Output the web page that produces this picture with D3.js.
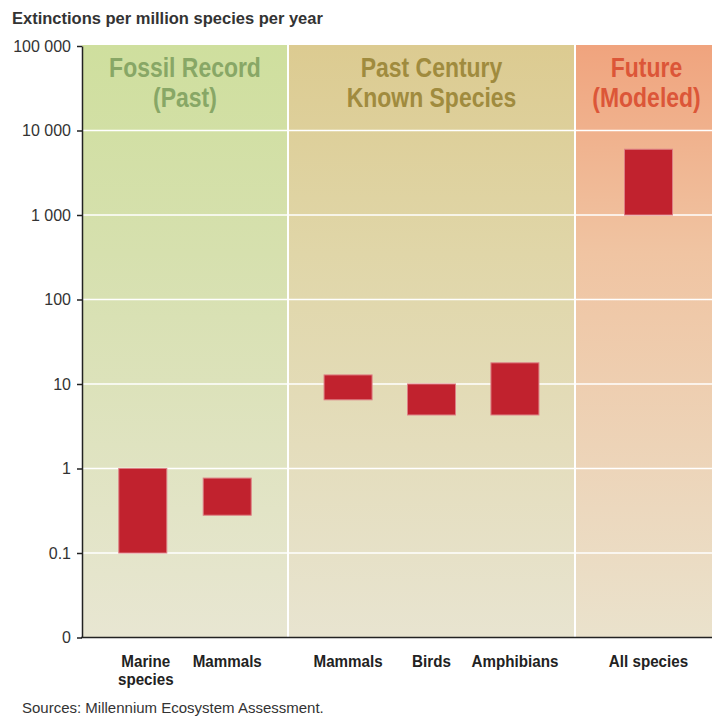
<!DOCTYPE html>
<html>
<head>
<meta charset="utf-8">
<script src="https://cdn.jsdelivr.net/npm/d3@7"></script>
<style>
  body { margin: 0; background: #fff; }
  svg { display: block; font-family: "Liberation Sans", Arial, sans-serif; }
</style>
</head>
<body>
<svg id="chart"></svg>
<script>
// data
const groupTitles = [["Fossil Record", "(Past)"], ["Past Century", "Known Species"], ["Future", "(Modeled)"]];
const categories = [["Marine", "species"], ["Mammals"], ["Mammals"], ["Birds"], ["Amphibians"], ["All species"]];
const categoryGroup = [0, 0, 1, 1, 1, 2];
const rateLow = [0.1, 0.28, 6.5, 4.3, 4.3, 1000];
const rateHigh = [1, 0.77, 12.8, 10, 17.8, 6000];
const yTickValues = [100000, 10000, 1000, 100, 10, 1, 0.1, 0.01];
const yTickLabels = ["100 000", "10 000", "1 000", "100", "10", "1", "0.1", "0"];

const width = 712, height = 717;
const margin = { top: 46, left: 82, bottom: 80 };
const plotBottom = height - margin.bottom + 0.5;
const panelEdges = [margin.left, 288, 575, 722];

const groupColors = [
  { title: "#88a766", stops: ["#cfdf9e", "#d6e0ae", "#e8e6d2"] },
  { title: "#a08b3e", stops: ["#dccb91", "#e0d6a8", "#e8e4d0"] },
  { title: "#dc5638", stops: ["#f0a47e", "#f0c4a2", "#eae2cc"] }
];

const svg = d3.select("#chart").attr("width", width).attr("height", height);

const y = d3.scaleLog().domain([0.01, 100000]).range([plotBottom, margin.top]);

// one point scale per panel
const xScales = groupTitles.map((g, gi) => {
  const ids = d3.range(categories.length).filter(i => categoryGroup[i] === gi);
  return d3.scalePoint().domain(ids).range([panelEdges[gi], panelEdges[gi + 1]]).padding(0.72);
});
const xOf = i => xScales[categoryGroup[i]](i);
const barW = 48;

// gradients
const defs = svg.append("defs");
groupColors.forEach((c, gi) => {
  const grad = defs.append("linearGradient")
    .attr("id", "bg" + gi)
    .attr("gradientUnits", "userSpaceOnUse")
    .attr("x1", 0).attr("x2", 0)
    .attr("y1", margin.top).attr("y2", plotBottom);
  grad.append("stop").attr("offset", "0").attr("stop-color", c.stops[0]);
  grad.append("stop").attr("offset", "0.35").attr("stop-color", c.stops[1]);
  grad.append("stop").attr("offset", "1").attr("stop-color", c.stops[2]);
});

// panels
svg.selectAll("rect.panel")
  .data(groupTitles)
  .enter().append("rect")
  .attr("class", "panel")
  .attr("x", (d, i) => panelEdges[i])
  .attr("y", margin.top - 1)
  .attr("width", (d, i) => panelEdges[i + 1] - panelEdges[i])
  .attr("height", plotBottom - margin.top + 1)
  .attr("fill", (d, i) => `url(#bg${i})`);

// white grid lines
svg.selectAll("line.grid")
  .data(yTickValues.slice(1, -1))
  .enter().append("line")
  .attr("x1", margin.left).attr("x2", width)
  .attr("y1", d => y(d)).attr("y2", d => y(d))
  .attr("stroke", "#fff").attr("stroke-width", 1.5);

svg.selectAll("line.sep")
  .data(panelEdges.slice(1, -1))
  .enter().append("line")
  .attr("x1", d => d).attr("x2", d => d)
  .attr("y1", margin.top - 1).attr("y2", plotBottom)
  .attr("stroke", "#fff").attr("stroke-width", 2);

// group titles (no narrow font installed, so squeeze horizontally)
groupTitles.forEach((lines, gi) => {
  const cx = (panelEdges[gi] + Math.min(panelEdges[gi + 1], width)) / 2 + (gi === 2 ? 3 : 0);
  svg.append("text")
    .attr("transform", `translate(${cx},0) scale(0.82,1)`)
    .attr("text-anchor", "middle")
    .style("font-size", "28px")
    .style("font-weight", "bold")
    .attr("fill", groupColors[gi].title)
    .selectAll("tspan")
    .data(lines)
    .enter().append("tspan")
    .attr("x", 0)
    .attr("y", (d, i) => 77 + i * 30)
    .text(d => d);
});

// bars
svg.selectAll("rect.bar")
  .data(categories)
  .enter().append("rect")
  .attr("class", "bar")
  .attr("x", (d, i) => xOf(i) - barW / 2)
  .attr("y", (d, i) => y(rateHigh[i]))
  .attr("width", barW)
  .attr("height", (d, i) => y(rateLow[i]) - y(rateHigh[i]))
  .attr("fill", "#c1222e")
  .attr("stroke", "#dd7f84")
  .attr("stroke-width", 1);

// y axis
const yAxis = d3.axisLeft(y)
  .tickValues(yTickValues)
  .tickFormat((d, i) => yTickLabels[i])
  .tickSize(5)
  .tickSizeOuter(0);

const gy = svg.append("g")
  .attr("transform", `translate(${margin.left},0)`)
  .call(yAxis);
gy.select(".domain").attr("stroke", "#222").attr("stroke-width", 1.5);
gy.selectAll(".tick line").attr("stroke", "#222").attr("stroke-width", 1.5);
gy.selectAll(".tick text")
  .attr("x", -11)
  .style("font-size", "16px")
  .style("font-family", "'Liberation Sans', Arial, sans-serif")
  .attr("fill", "#333");

// bottom line
svg.append("line")
  .attr("x1", margin.left - 1).attr("x2", width)
  .attr("y1", plotBottom).attr("y2", plotBottom)
  .attr("stroke", "#222").attr("stroke-width", 1.5);

// category labels
categories.forEach((lines, i) => {
  const cx = xOf(i) + (lines.length > 1 ? 3 : 0);
  svg.append("text")
    .attr("transform", `translate(${cx},0) scale(0.92,1)`)
    .attr("text-anchor", "middle")
    .style("font-size", "16.5px")
    .style("font-weight", "bold")
    .attr("fill", "#222")
    .selectAll("tspan")
    .data(lines)
    .enter().append("tspan")
    .attr("x", 0)
    .attr("y", (d, k) => 667 + k * 18)
    .text(d => d);
});

// title and source
svg.append("text")
  .attr("x", 12).attr("y", 24)
  .style("font-size", "16.5px")
  .style("font-weight", "bold")
  .attr("fill", "#333")
  .text("Extinctions per million species per year");

svg.append("text")
  .attr("x", 22).attr("y", 713)
  .style("font-size", "15px")
  .attr("fill", "#333")
  .text("Sources: Millennium Ecosystem Assessment.");
</script>
</body>
</html>
